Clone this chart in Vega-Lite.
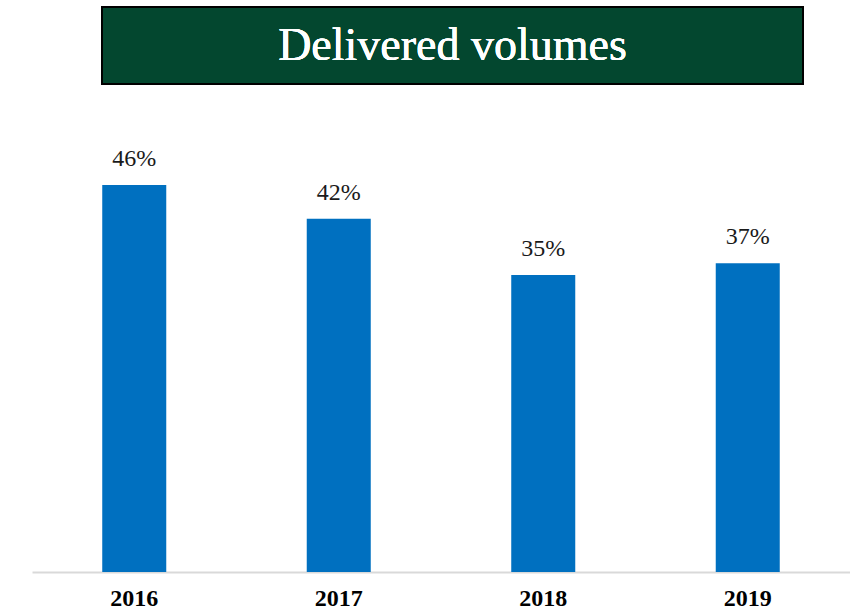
{
  "$schema": "https://vega.github.io/schema/vega-lite/v6.json",
  "padding": {"left": 32, "top": 6, "right": 0, "bottom": 0},
  "background": "white",
  "config": {"view": {"stroke": null}, "font": "Liberation Serif"},
  "spacing": 16,
  "data": {"values": [
    {"year": "2016", "value": 0.46},
    {"year": "2017", "value": 0.42},
    {"year": "2018", "value": 0.353},
    {"year": "2019", "value": 0.367}
  ]},
  "vconcat": [
    {
      "spacing": 0,
      "hconcat": [
        {
          "width": 69,
          "height": 77,
          "mark": {"type": "text"},
          "encoding": {"text": {"value": ""}}
        },
        {
          "width": 701,
          "height": 77,
          "view": {"fill": "#03472F", "stroke": "#000000", "strokeWidth": 2},
          "mark": {"type": "text", "font": "Liberation Serif", "fontSize": 46, "color": "white", "baseline": "middle"},
          "encoding": {"text": {"value": "Delivered volumes"}}
        }
      ]
    },
    {
      "width": 818,
      "height": 471,
      "encoding": {
        "x": {
          "field": "year", "type": "ordinal",
          "scale": {"paddingInner": 0.687, "paddingOuter": 0.3435},
          "axis": {"title": null, "labelAngle": 0, "labelFont": "Liberation Serif", "labelFontWeight": "bold", "labelFontSize": 24, "labelColor": "black", "ticks": false, "domainColor": "#d9d9d9", "domainWidth": 2, "labelPadding": 14}
        },
        "y": {"field": "value", "type": "quantitative", "scale": {"domain": [0, 0.56]}, "axis": null}
      },
      "layer": [
        {"mark": {"type": "bar", "color": "#0070C0"}},
        {
          "mark": {"type": "text", "font": "Liberation Serif", "fontSize": 24, "color": "#1a1a1a", "baseline": "bottom", "dy": -14},
          "encoding": {"text": {"field": "value", "type": "quantitative", "format": ".0%"}}
        }
      ]
    }
  ]
}
